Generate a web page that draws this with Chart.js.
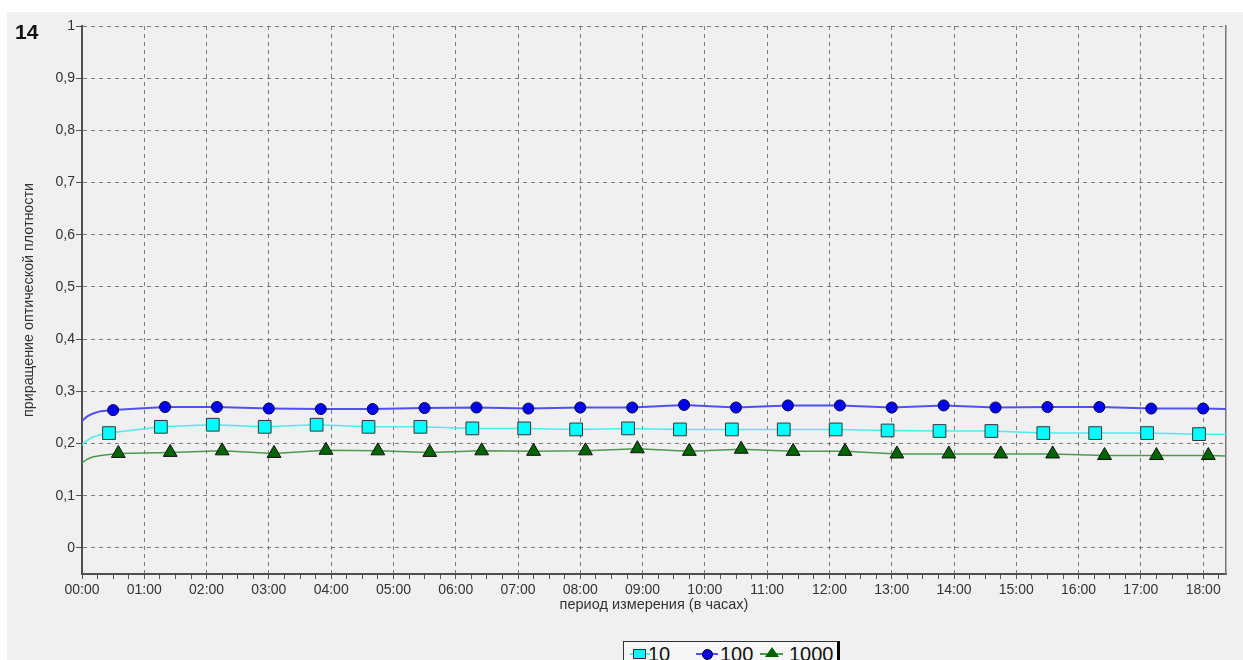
<!DOCTYPE html>
<html>
<head>
<meta charset="utf-8">
<script src="https://cdn.jsdelivr.net/npm/chart.js@4/dist/chart.umd.min.js"></script>
<style>
  body { margin: 0; background: #fff; width: 1243px; height: 660px; overflow: hidden; position: relative; font-family: "Liberation Sans", Arial, sans-serif; }
  #panel { position: absolute; left: 7px; top: 12px; width: 1236px; height: 648px; background: #f0f0f0; }
  #chart { position: absolute; left: 0; top: 0; }
  #num { position: absolute; left: 15px; top: 20px; font: bold 21px "Liberation Sans", Arial, sans-serif; color: #111; }
  #legend { position: absolute; left: 623px; top: 641px; width: 213px; height: 24px; border: 1px solid #333; border-right: 3px solid #000; background: #f6f6f6; font-size: 20px; color: #111; }
  .item { position: absolute; top: 0; height: 22px; line-height: 24px; }
  .ln { position: absolute; top: 11px; height: 2px; }
  .mk { position: absolute; }
</style>
</head>
<body>
<div id="panel"></div>
<canvas id="chart" width="1243" height="660"></canvas>
<div id="num">14</div>
<div id="legend">
  <span class="ln" style="left:6px;width:20px;background:#48eeee"></span>
  <span class="mk" style="left:9px;top:7px;width:11px;height:8px;background:#00ffff;border:1px solid #333"></span>
  <span class="item" style="left:24px">10</span>
  <span class="ln" style="left:72px;width:22px;background:#5050f0"></span>
  <span class="mk" style="left:78px;top:7px;width:9px;height:9px;border-radius:50%;background:#0000e0;border:1px solid #002"></span>
  <span class="item" style="left:96px">100</span>
  <span class="ln" style="left:136px;width:23px;background:#4c9a4c"></span>
  <span class="mk" style="left:141px;top:5px;width:0;height:0;border-left:7px solid transparent;border-right:7px solid transparent;border-bottom:10px solid #006400"></span>
  <span class="item" style="left:165px">1000</span>
</div>
<script>
// times in minutes from 00:00
const hourLabels = ['00:00','01:00','02:00','03:00','04:00','05:00','06:00','07:00','08:00','09:00',
  '10:00','11:00','12:00','13:00','14:00','15:00','16:00','17:00','18:00'];
const yTicks = [0, 0.1, 0.2, 0.3, 0.4, 0.5, 0.6, 0.7, 0.8, 0.9, 1];
const yLabels = ['0','0,1','0,2','0,3','0,4','0,5','0,6','0,7','0,8','0,9','1'];

const startMinutes = [0, 5, 10, 18];
const endMinute = 1102;

// series "10"
const cyanStart = [0.197, 0.206, 0.212, 0.217];
const cyanMin = [26,76,126,176,226,276,326,376,426,476,526,576,626,676,726,776,826,876,926,976,1026,1076];
const cyanVal = [0.220,0.232,0.236,0.232,0.236,0.232,0.232,0.229,0.229,0.227,0.229,0.227,0.227,0.227,0.227,0.225,0.224,0.224,0.220,0.220,0.220,0.218];
const cyanEnd = 0.218;

// series "100"
const blueStart = [0.243, 0.252, 0.257, 0.262];
const blueMin = [30,80,130,180,230,280,330,380,430,480,530,580,630,680,730,780,830,880,930,980,1030,1080];
const blueVal = [0.264,0.270,0.270,0.267,0.266,0.266,0.268,0.269,0.267,0.269,0.269,0.274,0.269,0.273,0.273,0.269,0.273,0.269,0.270,0.270,0.267,0.267];
const blueEnd = 0.266;

// series "1000"
const greenStart = [0.163, 0.170, 0.174, 0.177];
const greenMin = [35,85,135,185,235,285,335,385,435,485,535,585,635,685,735,785,835,885,935,985,1035,1085];
const greenVal = [0.181,0.183,0.186,0.181,0.187,0.186,0.183,0.186,0.185,0.186,0.190,0.185,0.189,0.185,0.185,0.180,0.180,0.180,0.180,0.177,0.177,0.177];
const greenEnd = 0.176;

function points(start, mins, vals, end) {
  let pts = startMinutes.map((m, i) => ({x: m, y: start[i], m: false}));
  mins.forEach((m, i) => pts.push({x: m, y: vals[i], m: true}));
  pts.push({x: endMinute, y: end, m: false});
  return pts;
}

function series(label, data, line, fill, border, style, r, w) {
  return {
    label: label,
    data: data,
    borderColor: line,
    borderWidth: w,
    backgroundColor: fill,
    pointBackgroundColor: fill,
    pointBorderColor: border,
    pointBorderWidth: 1,
    pointStyle: style,
    pointRadius: c => (c.raw && c.raw.m) ? r : 0,
    pointHoverRadius: c => (c.raw && c.raw.m) ? r : 0,
    tension: 0
  };
}

const gridCol = '#7a7a7a';
const txtCol = '#333';

new Chart(document.getElementById('chart'), {
  type: 'line',
  data: {
    datasets: [
      series('10', points(cyanStart, cyanMin, cyanVal, cyanEnd), '#48eeee', '#00ffff', '#333', 'rect', 9, 1.5),
      series('100', points(blueStart, blueMin, blueVal, blueEnd), '#5050f0', '#0000f0', '#000040', 'circle', 5.5, 2),
      series('1000', points(greenStart, greenMin, greenVal, greenEnd), '#4c9a4c', '#006400', '#111', 'triangle', 8, 1.5)
    ]
  },
  options: {
    responsive: false,
    animation: false,
    devicePixelRatio: 1,
    layout: { padding: { left: 16, right: 17, top: 26, bottom: 42 } },
    plugins: { legend: { display: false }, tooltip: { enabled: false } },
    scales: {
      x: {
        type: 'linear',
        min: 0,
        max: endMinute,
        afterBuildTicks: s => {
          let t = [];
          for (let v = 0; v < endMinute; v += 15) t.push({value: v});
          s.ticks = t;
        },
        afterFit: s => { s.height = 44; },
        ticks: {
          autoSkip: false,
          maxRotation: 0,
          padding: 3,
          color: txtCol,
          font: { family: 'Liberation Sans', size: 14 },
          callback: v => v % 60 === 0 ? hourLabels[v / 60] : ''
        },
        grid: {
          color: c => (c.tick && c.tick.value % 60 === 0) ? gridCol : 'rgba(0,0,0,0)',
          tickColor: '#555',
          tickLength: 5,
          lineWidth: 1
        },
        border: { color: '#505050', width: 2, dash: [4, 4] },
        title: {
          display: true,
          text: 'период измерения (в часах)',
          color: txtCol,
          font: { family: 'Liberation Sans', size: 14.5 },
          padding: { top: 4, bottom: 4 }
        }
      },
      y: {
        min: -0.05,
        max: 1,
        afterBuildTicks: s => { s.ticks = yTicks.map(v => ({value: v})); },
        afterFit: s => { s.width = 66; },
        ticks: {
          padding: 1,
          color: txtCol,
          font: { family: 'Liberation Sans', size: 14 },
          callback: (v, i) => yLabels[i]
        },
        grid: { color: gridCol, tickColor: '#555', tickLength: 6, lineWidth: 1 },
        border: { color: '#505050', width: 2, dash: [4, 4] },
        title: {
          display: true,
          text: 'приращение оптической плотности',
          color: txtCol,
          font: { family: 'Liberation Sans', size: 14.3 },
          padding: { top: 4, bottom: 4 }
        }
      },
      y2: {
        position: 'right',
        min: -0.05,
        max: 1,
        ticks: { display: false },
        grid: { display: false, drawTicks: false },
        border: { color: '#777', width: 1.5 },
        afterFit: s => { s.width = 0; }
      }
    }
  }
});
</script>
</body>
</html>
